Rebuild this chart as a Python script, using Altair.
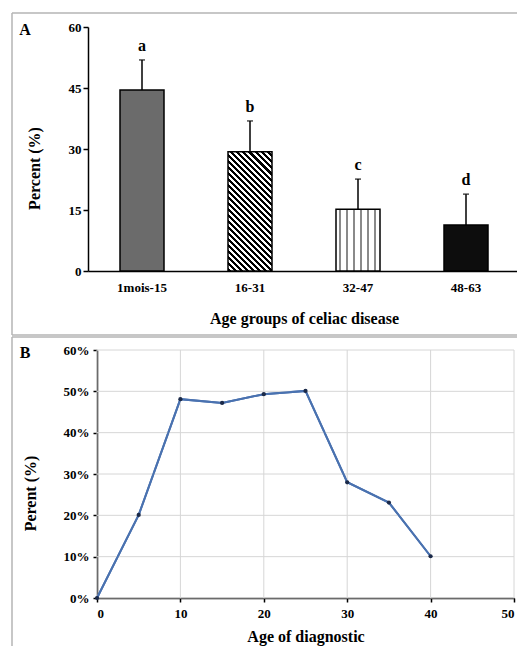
import math
import altair as alt
import pandas as pd

# ---- Panel A data ----
groups = ["1mois-15", "16-31", "32-47", "48-63"]
percent = [44.5, 29.3, 15.2, 11.3]
err_top = [51.9, 36.9, 22.6, 18.9]
letters = ["a", "b", "c", "d"]
a_ticks = [0, 15, 30, 45, 60]

# ---- Panel B data ----
age = [0, 5, 10, 15, 20, 25, 30, 35, 40]
perent = [0, 20.1, 48.1, 47.2, 49.3, 50.1, 28.0, 23.1, 10.1]
b_xticks = [0, 10, 20, 30, 40, 50]
b_yticks = [0, 10, 20, 30, 40, 50, 60]

FONT = "Liberation Serif"
W, H = 429, 619            # whole drawing area (origin = panel A plot corner)
A_W, A_H = 432, 244        # panel A plot
B_X0, B_X1 = 9, 426        # panel B plot, horizontal pixel range
B_Y0, B_Y1 = 323, 571      # panel B plot, vertical pixel range
BAR = 44

dfa = pd.DataFrame({"group": groups, "percent": percent, "top": err_top, "letter": letters})
dfb = pd.DataFrame({"age": age, "perent": perent})
dgx = pd.DataFrame({"age": b_xticks})
dgy = pd.DataFrame({"perent": b_yticks})
one = pd.DataFrame({"k": [0]})

# diagonal stripe gradient for the second bar (objectBoundingBox units)
w = BAR
h = percent[1] / 60 * A_H
fac = (w + h) / (w * w + h * h)
L = (w + h) / math.sqrt(2)
n = max(1, round(L / 4.3))
stops = []
for k in range(n):
    a0, a1, a2 = k / n, (k + 0.5) / n, (k + 1) / n
    stops += [alt.GradientStop(offset=a0, color="black"),
              alt.GradientStop(offset=a1, color="black"),
              alt.GradientStop(offset=a1, color="white"),
              alt.GradientStop(offset=a2, color="white")]
stripes = alt.Gradient(gradient="linear", stops=stops, x1=0, y1=1,
                       x2=fac * w, y2=1 - fac * h)

# vertical dashed lines for the third bar
vstops = [alt.GradientStop(offset=0, color="white")]
for c in [0.09, 0.25, 0.41, 0.57, 0.73, 0.89]:
    vstops += [alt.GradientStop(offset=c - 0.022, color="white"),
               alt.GradientStop(offset=c - 0.022, color="#8a8a8a"),
               alt.GradientStop(offset=c + 0.022, color="#8a8a8a"),
               alt.GradientStop(offset=c + 0.022, color="white")]
vstops.append(alt.GradientStop(offset=1, color="white"))
vlines = alt.Gradient(gradient="linear", stops=vstops, x1=0, y1=0, x2=1, y2=0)

fills = ["#6b6b6b", stripes, vlines, "#0d0d0d"]

# ---------------- Panel A ----------------
xA = alt.X("group:N", sort=groups,
           scale=alt.Scale(domain=groups, range=[0, A_W], paddingInner=0.1, paddingOuter=0.05),
           axis=alt.Axis(title="Age groups of celiac disease", orient="bottom", offset=A_H - H,
                         labelAngle=0, ticks=False, labelPadding=10, labelFontSize=13,
                         titleFontSize=16, titleY=47, titleBaseline="middle", domainWidth=1.5))
yA = alt.Y("percent:Q", scale=alt.Scale(domain=[0, 60], range=[A_H, 0]),
           axis=alt.Axis(title="Percent (%)", orient="left", values=a_ticks, grid=False,
                         tickSize=5, labelPadding=2, labelFontSize=13, titleFontSize=16,
                         titleX=-54, titleY=141, titleBaseline="middle", domainWidth=1.5))

base = alt.Chart(dfa)
layersA = []
for g, f in zip(groups, fills):
    layersA.append(base.transform_filter(alt.datum.group == g)
                   .mark_bar(size=BAR, stroke="black", strokeWidth=1.5, fill=f)
                   .encode(x=xA, y=yA))
err = base.mark_rule(color="black", strokeWidth=1.5).encode(
    x=alt.X("group:N", sort=groups), y="percent:Q", y2="top:Q")
cap = base.mark_tick(orient="horizontal", size=6, thickness=1.5, color="black").encode(
    x=alt.X("group:N", sort=groups), y="top:Q")
lab = base.mark_text(font=FONT, fontWeight="bold", fontSize=16, baseline="bottom", dy=-6,
                     color="black").encode(
    x=alt.X("group:N", sort=groups), y="top:Q", text="letter:N")

fc = "#b4b4b4"
frame = [
    alt.Chart(one).mark_rule(color=fc, strokeWidth=1.5).encode(
        x=alt.value(-76), x2=alt.value(W), y=alt.value(-14)),
    alt.Chart(one).mark_rule(color=fc, strokeWidth=1.5).encode(
        x=alt.value(-76), y=alt.value(-14), y2=alt.value(308)),
    alt.Chart(one).mark_rule(color=fc, strokeWidth=1.5).encode(
        x=alt.value(-76), x2=alt.value(W), y=alt.value(308)),
    alt.Chart(one).mark_rule(color=fc, strokeWidth=1.5).encode(
        x=alt.value(-76), x2=alt.value(W), y=alt.value(310)),
    alt.Chart(one).mark_rule(color=fc, strokeWidth=1.5).encode(
        x=alt.value(-76), y=alt.value(310), y2=alt.value(H)),
]
tags = [
    alt.Chart(one).mark_text(text="A", font=FONT, fontWeight="bold", fontSize=16,
                             color="black").encode(x=alt.value(-63), y=alt.value(3)),
    alt.Chart(one).mark_text(text="B", font=FONT, fontWeight="bold", fontSize=16,
                             color="black").encode(x=alt.value(-63), y=alt.value(326)),
]

panelA = alt.layer(*frame, *tags, *layersA, err, cap, lab)

# ---------------- Panel B ----------------
xB = alt.X("age:Q", scale=alt.Scale(domain=[0, 50], range=[B_X0, B_X1]),
           axis=alt.Axis(title="Age of diagnostic", orient="bottom", offset=B_Y1 - H,
                         values=b_xticks, tickSize=4, grid=False, labelPadding=5,
                         labelFontSize=13, titleFontSize=16, titleY=38,
                         titleBaseline="middle", domainWidth=1.5))
yB = alt.Y("perent:Q", scale=alt.Scale(domain=[0, 60], range=[B_Y1, B_Y0]),
           axis=alt.Axis(title="Perent (%)", orient="left", offset=-B_X0, values=b_yticks,
                         labelExpr="datum.value + '%'", tickSize=4, labelPadding=4,
                         labelFontSize=13, titleFontSize=16, titleX=-67, titleY=466,
                         titleBaseline="middle", grid=False, domainWidth=1.5))

gc = "#d6d6d6"
gridX = alt.Chart(dgx).mark_rule(color=gc, strokeWidth=1).encode(
    x="age:Q", y=alt.datum(0), y2=alt.datum(60))
gridY = alt.Chart(dgy).mark_rule(color=gc, strokeWidth=1).encode(
    y="perent:Q", x=alt.datum(0), x2=alt.datum(50))
lineB = alt.Chart(dfb).mark_line(color="#4a72b0", strokeWidth=2).encode(x=xB, y=yB)
ptsB = alt.Chart(dfb).mark_point(filled=True, size=18, color="#1b2a49", opacity=1).encode(
    x="age:Q", y="perent:Q")
panelB = alt.layer(lineB, gridX, gridY, lineB, ptsB)

chart = alt.layer(panelA, panelB).resolve_scale(
    x="independent", y="independent"
).resolve_axis(
    x="independent", y="independent"
).properties(
    width=W, height=H,
    autosize=alt.AutoSizeParams(type="none"),
    padding={"left": 80, "top": 19, "right": 0, "bottom": 0},
).configure_view(stroke=None).configure_axis(
    labelFont=FONT, titleFont=FONT, labelFontWeight="bold", titleFontWeight="bold",
    labelColor="black", titleColor="black", domainColor="black", tickColor="black",
    tickWidth=1.5
)

chart.save("out.html", embed_options={"renderer": "svg", "actions": False})
